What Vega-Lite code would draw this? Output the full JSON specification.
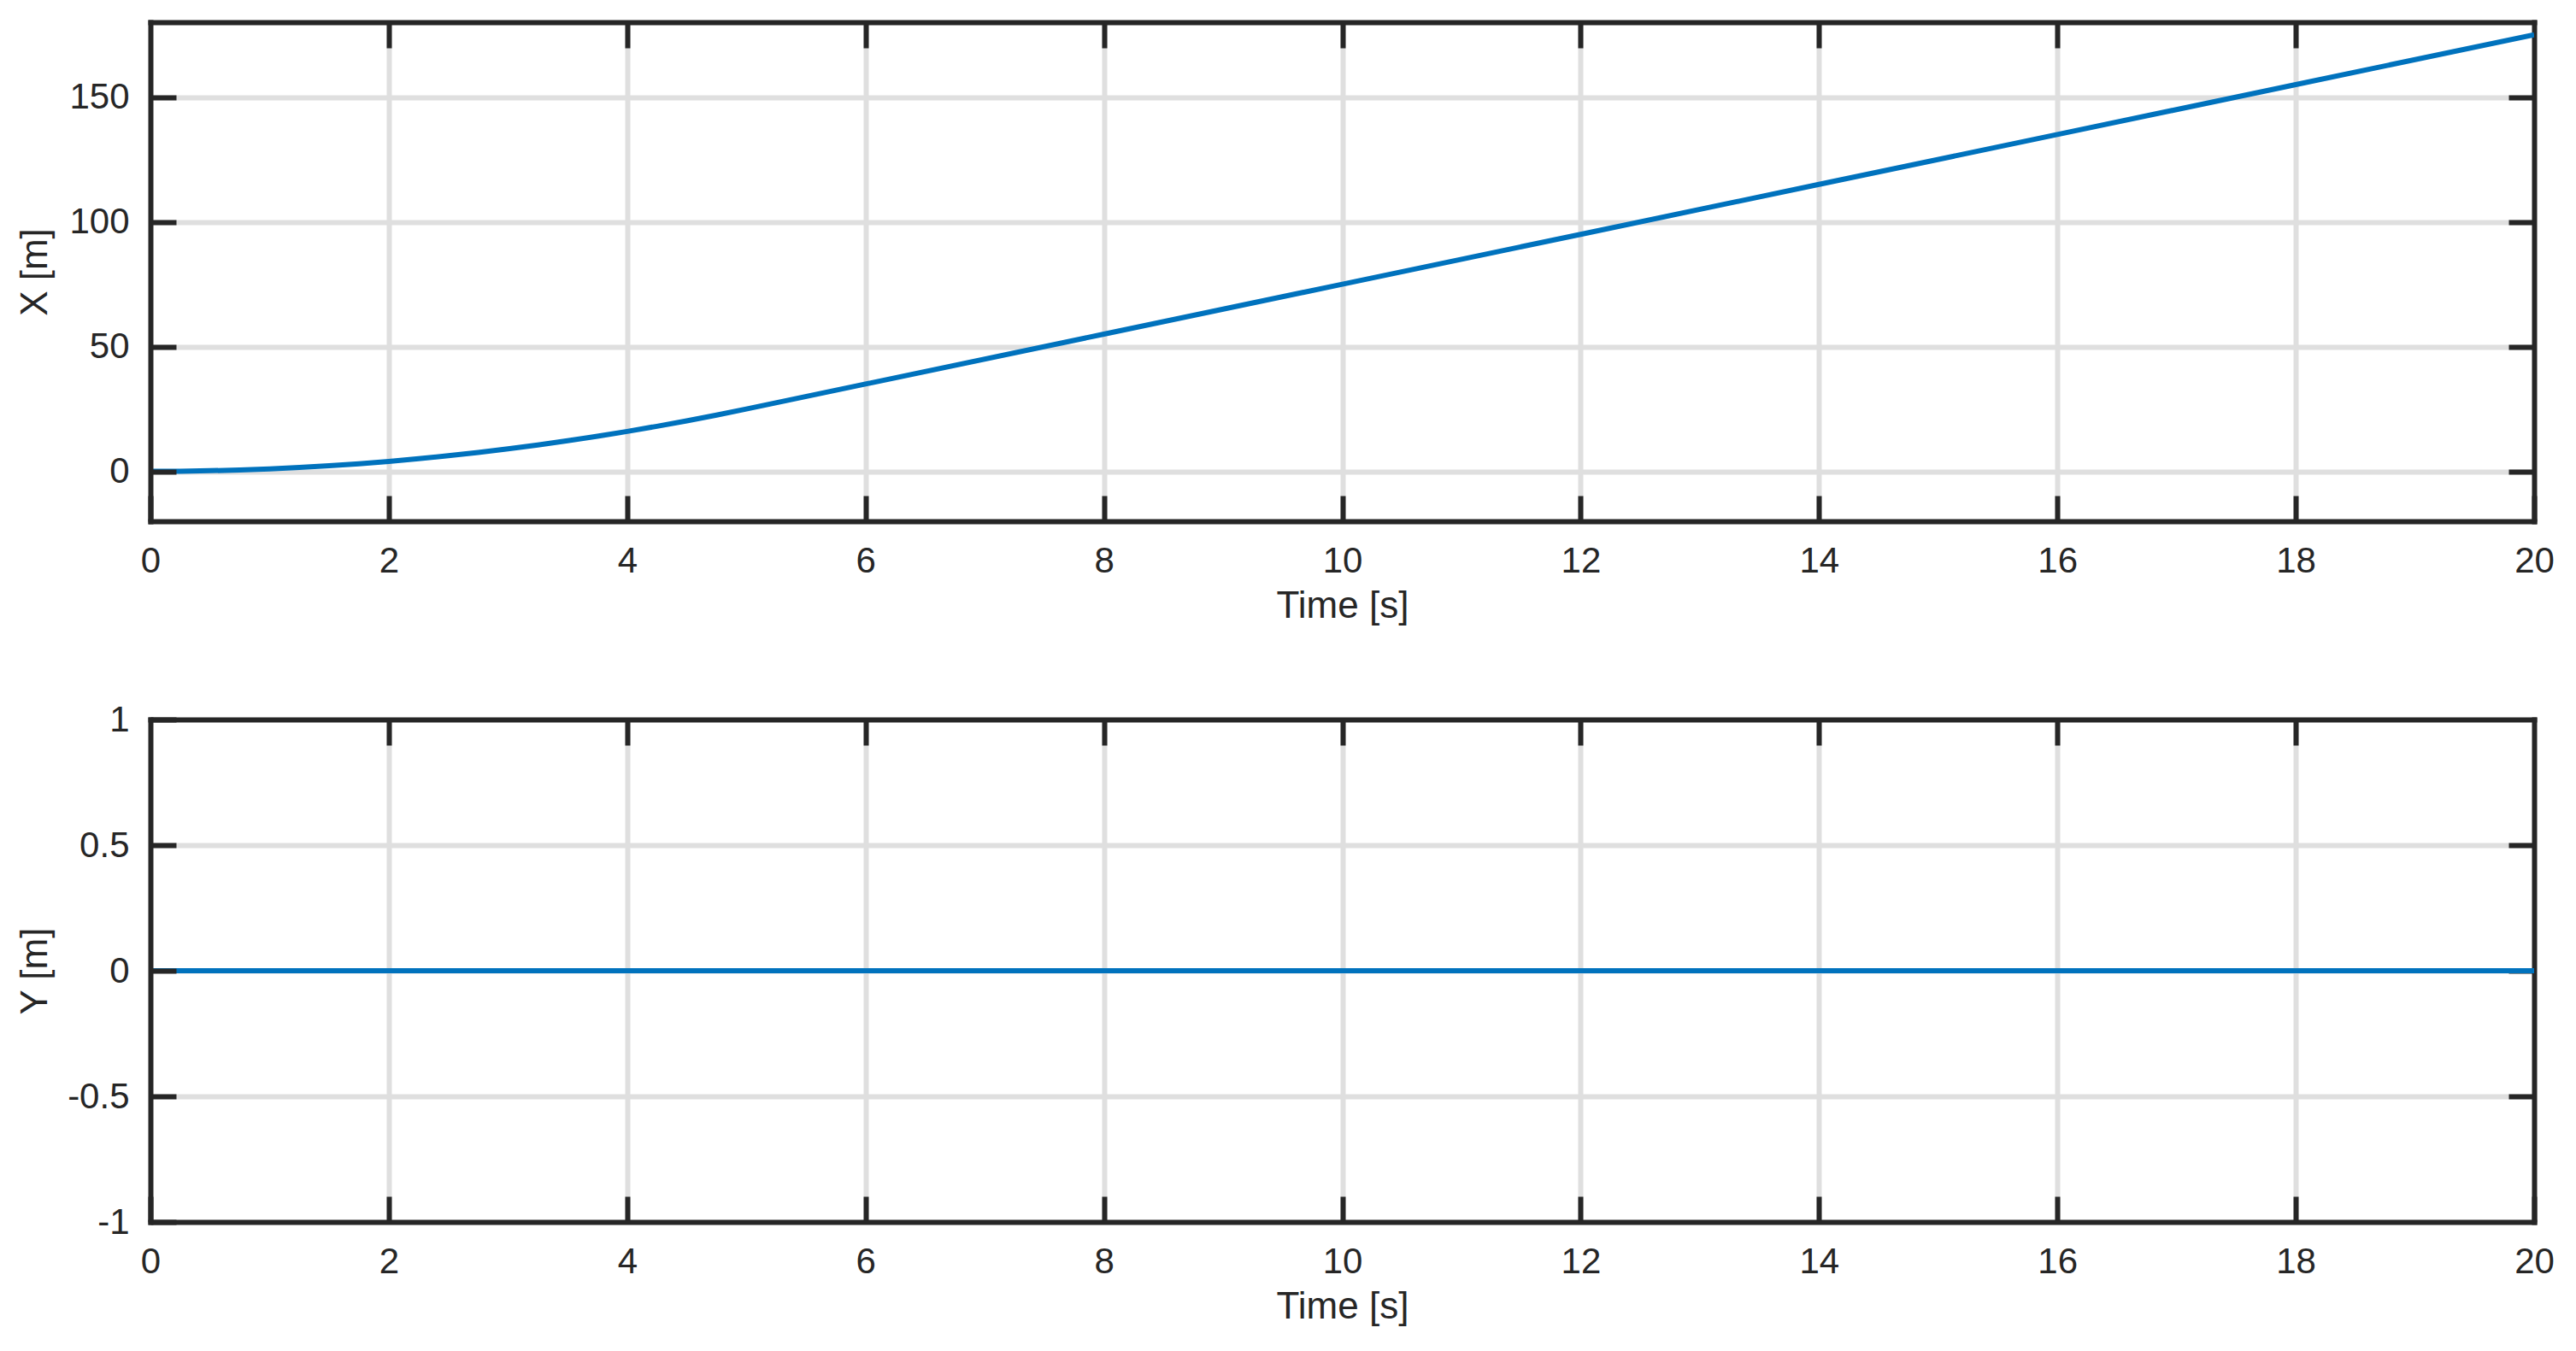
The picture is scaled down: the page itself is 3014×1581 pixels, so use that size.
{
  "$schema": "https://vega.github.io/schema/vega-lite/v6.json",
  "background": "white",
  "padding": {"left": 19, "top": 23, "right": 5, "bottom": 5},
  "spacing": 90,
  "config": {
    "view": {"stroke": null},
    "font": "Liberation Sans",
    "axis": {
      "labelFont": "Liberation Sans",
      "titleFont": "Liberation Sans",
      "labelColor": "#262626",
      "titleColor": "#262626",
      "labelFontSize": 42,
      "titleFontSize": 44,
      "titleFontWeight": "normal",
      "domainColor": "#262626",
      "domainWidth": 6,
      "domainCap": "square",
      "tickColor": "#262626",
      "tickWidth": 6,
      "tickSize": -30,
      "gridColor": "#dfdfdf",
      "gridWidth": 6,
      "gridOpacity": 1,
      "labelFlush": false,
      "labelOverlap": false,
      "labelBound": false,
      "labelExpr": "'' + datum.value"
    }
  },
  "vconcat": [
    {
      "width": 2789,
      "height": 584,
      "data": {"values": [
        {"t": 0, "x": 0}, {"t": 0.25, "x": 0.0625}, {"t": 0.5, "x": 0.25}, {"t": 0.75, "x": 0.5625},
        {"t": 1, "x": 1}, {"t": 1.25, "x": 1.5625}, {"t": 1.5, "x": 2.25}, {"t": 1.75, "x": 3.0625},
        {"t": 2, "x": 4}, {"t": 2.25, "x": 5.0625}, {"t": 2.5, "x": 6.25}, {"t": 2.75, "x": 7.5625},
        {"t": 3, "x": 9}, {"t": 3.25, "x": 10.5625}, {"t": 3.5, "x": 12.25}, {"t": 3.75, "x": 14.0625},
        {"t": 4, "x": 16}, {"t": 4.25, "x": 18.0625}, {"t": 4.5, "x": 20.25}, {"t": 4.75, "x": 22.5625},
        {"t": 5, "x": 25}, {"t": 6, "x": 35}, {"t": 8, "x": 55}, {"t": 10, "x": 75},
        {"t": 12, "x": 95}, {"t": 14, "x": 115}, {"t": 16, "x": 135}, {"t": 18, "x": 155}, {"t": 20, "x": 175}
      ]},
      "layer": [
        {
          "mark": {"type": "line", "opacity": 0},
          "encoding": {
            "x": {"field": "t", "type": "quantitative", "scale": {"domain": [0, 20], "nice": false, "zero": false},
              "axis": {"orient": "top", "values": [2, 4, 6, 8, 10, 12, 14, 16, 18], "grid": true, "labels": false, "title": null, "zindex": 0}},
            "y": {"field": "x", "type": "quantitative", "scale": {"domain": [-20, 180], "nice": false, "zero": false},
              "axis": {"orient": "right", "values": [0, 50, 100, 150], "grid": true, "labels": false, "title": null, "zindex": 0}}
          }
        },
        {
          "mark": {"type": "line", "color": "#0072BD", "strokeWidth": 6, "clip": true},
          "encoding": {
            "x": {"field": "t", "type": "quantitative",
              "axis": {"orient": "bottom", "values": [0, 2, 4, 6, 8, 10, 12, 14, 16, 18, 20], "grid": false, "title": "Time [s]", "labelPadding": 56, "titlePadding": 10, "zindex": 1}},
            "y": {"field": "x", "type": "quantitative",
              "axis": {"orient": "left", "values": [0, 50, 100, 150], "grid": false, "title": "X [m]", "labelPadding": 55, "titleX": -122, "titleY": 292, "titleBaseline": "alphabetic", "zindex": 1}}
          }
        }
      ],
      "resolve": {"axis": {"x": "independent", "y": "independent"}}
    },
    {
      "width": 2789,
      "height": 588,
      "data": {"values": [
        {"t": 0, "y": 0}, {"t": 5, "y": 0}, {"t": 10, "y": 0}, {"t": 15, "y": 0}, {"t": 20, "y": 0}
      ]},
      "layer": [
        {
          "mark": {"type": "line", "opacity": 0},
          "encoding": {
            "x": {"field": "t", "type": "quantitative", "scale": {"domain": [0, 20], "nice": false, "zero": false},
              "axis": {"orient": "top", "values": [2, 4, 6, 8, 10, 12, 14, 16, 18], "grid": true, "labels": false, "title": null, "zindex": 0}},
            "y": {"field": "y", "type": "quantitative", "scale": {"domain": [-1, 1], "nice": false, "zero": false},
              "axis": {"orient": "right", "values": [-0.5, 0, 0.5], "grid": true, "labels": false, "title": null, "zindex": 0}}
          }
        },
        {
          "mark": {"type": "line", "color": "#0072BD", "strokeWidth": 6, "clip": true},
          "encoding": {
            "x": {"field": "t", "type": "quantitative",
              "axis": {"orient": "bottom", "values": [0, 2, 4, 6, 8, 10, 12, 14, 16, 18, 20], "grid": false, "title": "Time [s]", "labelPadding": 56, "titlePadding": 10, "zindex": 1}},
            "y": {"field": "y", "type": "quantitative",
              "axis": {"orient": "left", "values": [-1, -0.5, 0, 0.5, 1], "grid": false, "title": "Y [m]", "labelPadding": 55, "titleX": -122, "titleY": 294, "titleBaseline": "alphabetic", "zindex": 1}}
          }
        }
      ],
      "resolve": {"axis": {"x": "independent", "y": "independent"}}
    }
  ]
}
